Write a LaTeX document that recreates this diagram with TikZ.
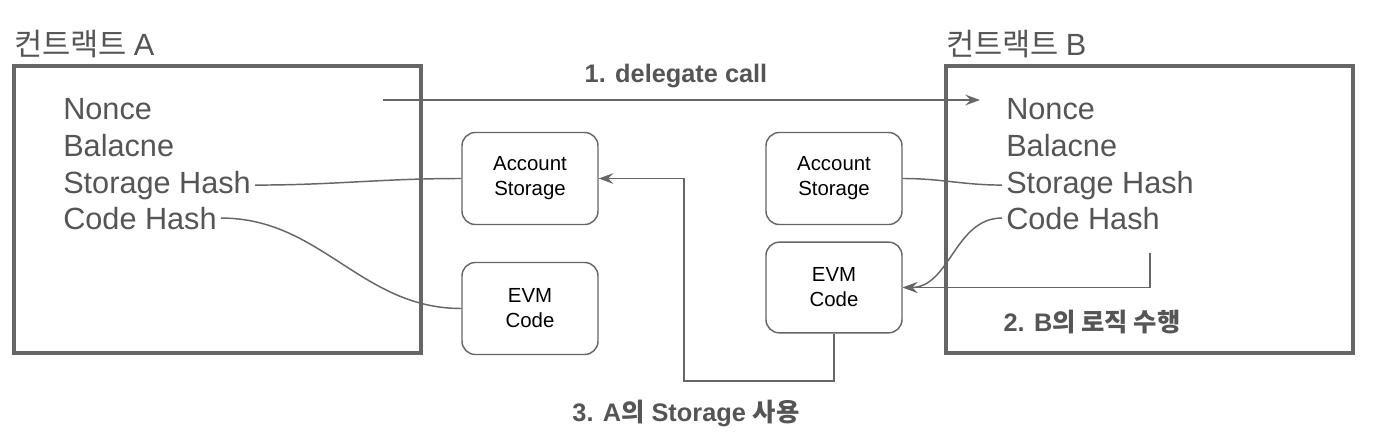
\documentclass[tikz,border=0pt]{standalone}
\usepackage{fontspec}
\setmainfont{Liberation Sans}
\newfontfamily\kr{Noto Sans CJK KR}
\usetikzlibrary{arrows.meta}
\definecolor{txtgray}{HTML}{555555}
\definecolor{lngray}{HTML}{666666}

\begin{document}
\begin{tikzpicture}[x=0.75pt,y=-0.75pt,
  cbox/.style={draw=lngray,line width=3pt,minimum width=305pt,minimum height=215pt},
  field/.style={anchor=base west,inner sep=3pt,text=txtgray,font=\fontsize{23}{27}\selectfont},
  title/.style={anchor=base west,inner sep=0pt,text=txtgray,font=\fontsize{23}{27}\selectfont},
  part/.style={draw=lngray,line width=1.1pt,rounded corners=10pt,minimum width=102pt,
    minimum height=69pt,align=center,font=\fontsize{15.3}{18.75}\selectfont},
  steplabel/.style={text=txtgray,font=\bfseries\fontsize{19}{22}\selectfont},
  wire/.style={draw=lngray,line width=1.1pt},
  arr/.style={wire,-{Stealth[length=11pt,width=8pt,inset=4pt]}}]
\useasboundingbox (0,0) rectangle (1385,446);

% contract boxes
\node[cbox] (boxA) at (217.5,209.5) {};
\node[cbox] (boxB) at (1149.5,209.5) {};
\node[title] (titleA) at (14,55) {{\kr 컨트랙트}\hspace{5pt}A};
\node[title] (titleB) at (946,55) {{\kr 컨트랙트}\hspace{5pt}B};

% account fields
\node[field] (nonceA) at (59,119) {Nonce};
\node[field] (balA) at (59,156) {Balacne};
\node[field] (shA) at (59,193) {Storage Hash};
\node[field] (chA) at (59,229) {Code Hash};
\node[field] (nonceB) at (1002,119) {Nonce};
\node[field] (balB) at (1002,156) {Balacne};
\node[field] (shB) at (1002,193) {Storage Hash};
\node[field] (chB) at (1002,229) {Code Hash};

% storage and code
\node[part] (asA) at (530,178.5) {Account\\Storage};
\node[part] (evmA) at (530,308.5) {EVM\\Code};
\node[part] (asB) at (834,178.5) {Account\\Storage};
\node[part,minimum height=68pt] (evmB) at (834,287.5) {EVM\\Code};

% links
\draw[wire] (shA.east) to[out=0,in=180] (asA.west);
\draw[wire] (chA.east) to[out=0,in=180] (evmA.west);
\draw[wire] (asB.east) to[out=0,in=180] (shB.west);
\draw[arr] (chB.west) to[out=180,in=0] (evmB.east);

% steps
\coordinate (callA) at (383,100);
\coordinate (callB) at (980,100);
\draw[arr] (callA) -- (callB);
\node[steplabel] (step1) at (676,76) {1. delegate call};

\coordinate (logic) at (1150,253);
\draw[arr] (logic) |- (evmB.east);
\node[steplabel] (step2) at (1092,322) {2. B{\kr 의 로직 수행}};

\coordinate (turn) at (684,381);
\draw[arr] (evmB.south) |- (turn) |- (asA.east);
\node[steplabel] (step3) at (686,413) {3. A{\kr 의} Storage {\kr 사용}};
\end{tikzpicture}
\end{document}
